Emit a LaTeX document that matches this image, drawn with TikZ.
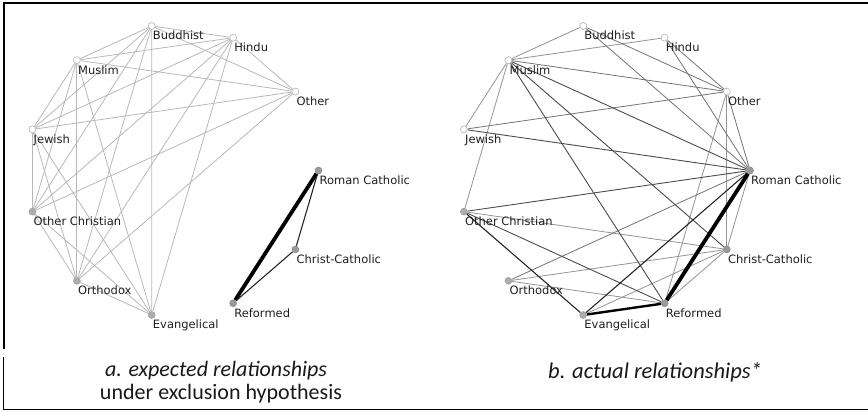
\documentclass[tikz,border=0pt]{standalone}
\usepackage{fontspec}
\setmainfont{Carlito}
\newfontfamily\tagfont{DejaVu Sans}
\usetikzlibrary{backgrounds}
\tikzset{
    onode/.style={circle,draw=gray!55,fill=white,minimum size=7pt,inner sep=0pt,line width=0.7pt},
    gnode/.style={circle,draw=gray!75,fill=gray!65,minimum size=7pt,inner sep=0pt,line width=0.5pt},
    dnode/.style={circle,draw=gray!90,fill=gray!80,minimum size=7pt,inner sep=0pt,line width=0.5pt},
    tag/.style={anchor=north west,inner sep=0pt,xshift=1pt,yshift=-5pt,text=black!88,
        font=\tagfont\fontsize{11.5}{13}\selectfont},
    captext/.style={anchor=base,inner sep=0pt,text=black!90},
    lite/.style={draw=black!28,line width=0.8pt},
    soft/.style={draw=black!42,line width=0.8pt},
    mid/.style={draw=black!70,line width=0.9pt},
    dark/.style={draw=black!85,line width=1.1pt},
    heavy/.style={draw=black,line width=2.4pt},
    heavier/.style={draw=black,line width=3.8pt},
}
\begin{document}
\begin{tikzpicture}[x=1pt,y=-1pt]
\useasboundingbox (0,0) rectangle (868,412);
% frame
\draw[line width=2pt] (868,3) -- (3.5,3) -- (3.5,349);
\draw[line width=1.5pt] (3.5,357) -- (3.5,409.5) -- (868,409.5);
% nodes of both panels on one circle each
\foreach \p/\cx in {a/172.5,b/604}{
  \foreach \n/\k/\st/\txt in {rc/0/dnode/Roman Catholic, ot/1/onode/Other, hi/2/onode/Hindu,
      bu/3/onode/Buddhist, mu/4/onode/Muslim, je/5/onode/Jewish, oc/6/gnode/Other Christian,
      or/7/gnode/Orthodox, ev/8/gnode/Evangelical, re/9/dnode/Reformed, cc/10/dnode/Christ-Catholic}{
    \node[\st] (\p\n) at ({\cx+146*cos(\k*360/11)},{170.5-146*sin(\k*360/11)}) {};
    \node[tag] (\p\n-t) at (\p\n.center) {\txt};
  }
}
% captions
\node[captext,font=\fontsize{22}{25}\selectfont\itshape] (capa) at (216,376) {a. expected relationships};
\node[captext,font=\fontsize{22}{25}\selectfont] (capa2) at (221,399) {under exclusion hypothesis};
\node[captext,font=\fontsize{22.5}{25}\selectfont\itshape] (capb) at (655,378) {b. actual relationships*};
\begin{scope}[on background layer]
% a. expected
\foreach \u/\v in {bu/hi,bu/mu,bu/ot,bu/je,bu/oc,bu/or,bu/ev,
    hi/mu,hi/ot,hi/je,hi/oc,hi/or,hi/ev,
    mu/ot,mu/je,mu/oc,mu/or,mu/ev,
    ot/je,ot/oc,ot/or,
    je/oc,je/or,je/ev,
    oc/or,oc/ev,or/ev}
  \draw[lite] (a\u) -- (a\v);
\draw[heavier] (arc) -- (are);
\draw[dark] (arc) -- (acc) -- (are);
% b. actual
\foreach \u/\v in {bu/mu,mu/hi,mu/je,mu/oc,ot/cc,ot/re,oc/cc,or/cc,or/re,ev/cc,re/cc,rc/cc}
  \draw[soft] (b\u) -- (b\v);
\foreach \u/\v in {bu/ot,bu/rc,hi/ot,hi/rc,je/ot,mu/ot,ot/rc,or/rc}
  \draw[soft,draw=black!55] (b\u) -- (b\v);
\foreach \u/\v in {mu/rc,mu/re,mu/cc,je/rc,oc/rc,oc/re}
  \draw[mid] (b\u) -- (b\v);
\draw[dark] (boc) -- (bev);
\draw[dark] (bev) -- (brc);
\draw[heavy] (bev) -- (bre);
\draw[heavier] (brc) -- (bre);
\end{scope}
\end{tikzpicture}
\end{document}
